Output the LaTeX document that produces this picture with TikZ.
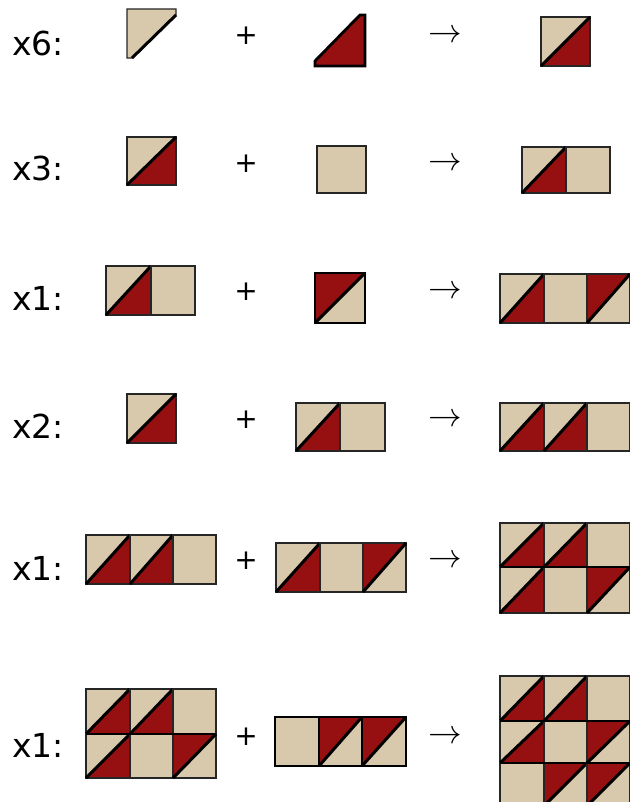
\documentclass[tikz,border=0pt]{standalone}
\usepackage{fontspec}
\newfontfamily\lblfont{DejaVu Sans}
\usepackage{graphicx}
\usepackage{xcolor}
\definecolor{quilttan}{RGB}{216,201,172}
\definecolor{quiltred}{RGB}{150,16,17}

% one patch: left x, upper y, right x, lower y (pixel units)
\newcommand{\tancell}[4]{%
  \fill[quilttan] (#1,#2) rectangle (#3,#4);
  \draw[seam] (#1,#2) rectangle (#3,#4);}
\newcommand{\hstcell}[4]{%
  \fill[quilttan] (#1,#2) rectangle (#3,#4);
  \fill[quiltred] (#1,#4) -- (#3,#4) -- (#3,#2) -- cycle;
  \draw[seam] (#1,#2) rectangle (#3,#4);
  \draw[diag] (#1,#4) -- (#3,#2);}
\newcommand{\flipcell}[4]{%
  \fill[quilttan] (#1,#2) rectangle (#3,#4);
  \fill[quiltred] (#1,#2) -- (#3,#2) -- (#1,#4) -- cycle;
  \draw[seam] (#1,#2) rectangle (#3,#4);
  \draw[diag] (#1,#4) -- (#3,#2);}
\newcommand{\yieldsign}{\scalebox{1.35}{$\rightarrow$}}

\begin{document}
\begin{tikzpicture}[x=1pt,y=-1pt,
  seam/.style={draw=black!85,line width=1.2},
  diag/.style={draw=black,line width=3},
  thickrim/.style={draw=black,line width=2.8},
  rowlbl/.style={anchor=base west,inner sep=0,font=\lblfont\fontsize{33}{33}\selectfont},
  opsign/.style={inner sep=0,font=\lblfont\fontsize{28}{28}\selectfont},
  yields/.style={inner sep=0,font=\fontsize{24}{24}\selectfont}]
\useasboundingbox (0,0) rectangle (629,802);

% labels and signs
\node[rowlbl] (lblA) at (12,56) {x6:};
\node[rowlbl] (lblB) at (12,181) {x3:};
\node[rowlbl] (lblC) at (12,310) {x1:};
\node[rowlbl] (lblD) at (12,438) {x2:};
\node[rowlbl] (lblE) at (12,580) {x1:};
\node[rowlbl] (lblF) at (12,757) {x1:};
\node[opsign] (plusA) at (246,36) {+};
\node[opsign] (plusB) at (246,164) {+};
\node[opsign] (plusC) at (246,292) {+};
\node[opsign] (plusD) at (246,420) {+};
\node[opsign] (plusE) at (246,561) {+};
\node[opsign] (plusF) at (246,737) {+};
\node[yields] (toA) at (445,36) {\yieldsign};
\node[yields] (toB) at (445,164) {\yieldsign};
\node[yields] (toC) at (445,292) {\yieldsign};
\node[yields] (toD) at (445,420) {\yieldsign};
\node[yields] (toE) at (445,561) {\yieldsign};
\node[yields] (toF) at (445,737) {\yieldsign};

% x6
\fill[quilttan] (127,9) -- (176,9) -- (176,15) -- (132,58) -- (127,58) -- cycle;
\draw[seam] (127,9) -- (176,9) -- (176,15) -- (132,58) -- (127,58) -- cycle;
\draw[diag] (176,15) -- (132,58);
\fill[quiltred] (360,15) -- (365,15) -- (365,66) -- (315,66) -- (315,61) -- cycle;
\draw[thickrim] (360,15) -- (365,15) -- (365,66) -- (315,66) -- (315,61) -- cycle;
\hstcell{541}{17}{590}{66}

% x3
\hstcell{127}{137}{176}{185}
\tancell{317}{146}{366}{193}
\hstcell{522}{147}{566}{193}
\tancell{566}{147}{610}{193}

% x1
\hstcell{106}{266}{151}{315}
\tancell{151}{266}{195}{315}
\flipcell{315}{273}{365}{323}
\draw[thickrim] (315,273) rectangle (365,323);
\hstcell{500}{274}{544}{323}
\tancell{544}{274}{587}{323}
\flipcell{587}{274}{630}{323}

% x2
\hstcell{127}{394}{176}{443}
\hstcell{296}{403}{340}{451}
\tancell{340}{403}{385}{451}
\hstcell{500}{403}{544}{451}
\hstcell{544}{403}{587}{451}
\tancell{587}{403}{630}{451}

% x1
\hstcell{86}{535}{130}{584}
\hstcell{130}{535}{173}{584}
\tancell{173}{535}{216}{584}
\hstcell{276}{543}{320}{592}
\tancell{320}{543}{363}{592}
\flipcell{363}{543}{406}{592}
\hstcell{500}{523}{544}{567}
\hstcell{544}{523}{587}{567}
\tancell{587}{523}{630}{567}
\hstcell{500}{567}{544}{613}
\tancell{544}{567}{587}{613}
\flipcell{587}{567}{630}{613}
\draw[thickrim] (500,567) -- (630,567);

% x1
\hstcell{86}{689}{130}{734}
\hstcell{130}{689}{173}{734}
\tancell{173}{689}{216}{734}
\hstcell{86}{734}{130}{778}
\tancell{130}{734}{173}{778}
\flipcell{173}{734}{216}{778}
\draw[thickrim] (86,734) -- (216,734);
\tancell{275}{717}{319}{766}
\flipcell{319}{717}{362}{766}
\flipcell{362}{717}{406}{766}
\draw[thickrim] (275,717) rectangle (406,766);
\draw[thickrim] (319,717) -- (319,766) (362,717) -- (362,766);
\hstcell{500}{676}{544}{721}
\hstcell{544}{676}{587}{721}
\tancell{587}{676}{630}{721}
\hstcell{500}{721}{544}{763}
\tancell{544}{721}{587}{763}
\flipcell{587}{721}{630}{763}
\tancell{500}{763}{544}{806}
\flipcell{544}{763}{587}{806}
\flipcell{587}{763}{630}{806}
\draw[thickrim] (500,721) -- (630,721) (500,763) -- (630,763);
\end{tikzpicture}
\end{document}
